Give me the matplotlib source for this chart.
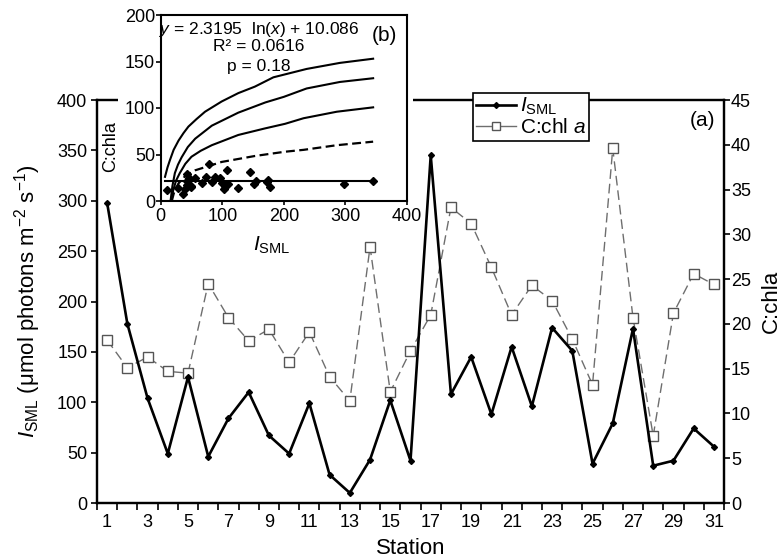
import numpy as np
import matplotlib
matplotlib.use('Agg')
import matplotlib.pyplot as plt
from matplotlib.lines import Line2D
from matplotlib.patches import Rectangle

plt.rcParams['font.family'] = ['Liberation Sans', 'DejaVu Sans']
plt.rcParams['mathtext.fontset'] = 'custom'
plt.rcParams['mathtext.rm'] = 'Liberation Sans'
plt.rcParams['mathtext.it'] = 'Liberation Sans:italic'
plt.rcParams['mathtext.bf'] = 'Liberation Sans:bold'

# Irradiance in the surface mixed layer and C:chl a at each station
stations = np.arange(1, 32)
i_sml = [298, 178, 104, 49, 125, 46, 84, 110, 67, 49, 99, 28, 10, 43, 102, 42,
         345, 108, 145, 88, 155, 96, 174, 151, 39, 79, 173, 37, 42, 74, 56]
c_chl = [18.2, 15.1, 16.3, 14.7, 14.5, 24.5, 20.7, 18.1, 19.4, 15.7, 19.1, 14.1,
         11.4, 28.6, 12.4, 17.0, 21.0, 33.0, 31.2, 26.3, 21.0, 24.3, 22.6, 18.3,
         13.2, 39.6, 20.7, 7.5, 21.2, 25.6, 24.4]

# Model curves of C:chl a against I_SML for the inset
curve_top_x = [7, 11, 15, 21, 29, 37, 45, 58, 72, 99, 126, 153, 183, 237, 291, 345]
curve_top_y = [26, 36, 44, 55, 65, 73, 80, 88, 96, 107, 116, 123, 133, 142, 148.5, 153]
curve_mid_x = [16, 19, 23, 28, 34, 44, 56, 83, 126, 170, 200, 237, 291, 345]
curve_mid_y = [0, 16, 30, 39, 47, 58, 67, 81, 95, 106, 112, 121, 128, 132]
curve_low_x = [17, 20.5, 25, 31, 40, 50, 65, 83, 126, 169, 202, 232, 286, 345]
curve_low_y = [0, 12, 22, 30, 40, 47.6, 54, 60, 71, 78, 83, 89, 96, 100.7]
curve_dash_x = [18, 22, 29, 40, 56, 99, 153, 202, 232, 286, 345]
curve_dash_y = [0, 10, 19, 27, 33, 42, 48.4, 53, 55, 60, 63.8]
flat_x = [7, 345]
flat_level = 22

W, H = 784, 559


def fig_box(left, top, right, bottom):
    # pixel box -> figure fraction rectangle
    return [left / W, 1 - bottom / H, (right - left) / W, (bottom - top) / H]


fig = plt.figure(figsize=(W / 100, H / 100), dpi=100)
ax = fig.add_axes(fig_box(97, 100, 724, 503))
ax2 = ax.twinx()
ax.set_zorder(ax2.get_zorder() + 1)
ax.patch.set_visible(False)

# C:chl a on the right axis, I_SML on the left axis
ax2.plot(stations, c_chl, color='#6e6e6e', lw=1.0, dashes=(7, 3.5),
         marker='s', ms=6.5, mfc='white', mec='#555555', mew=1.0)
ax.plot(stations, i_sml, color='black', lw=1.9, marker='D', ms=3)

ax.set_xlim(0.5, 31.5)
ax.set_xticks(range(1, 32, 2))
ax.set_xticks(np.arange(0.5, 32, 1), minor=True)
ax.tick_params(axis='x', which='major', length=0, pad=8, labelsize=13)
ax.tick_params(axis='x', which='minor', length=5, width=1.2, direction='out')
ax.set_ylim(0, 400)
ax.set_yticks(range(0, 401, 50))
ax.tick_params(axis='y', length=4, width=1.2, pad=3, labelsize=13)
ax2.set_ylim(0, 45)
ax2.set_yticks(range(0, 46, 5))
ax2.tick_params(axis='y', length=4, width=1.2, pad=1, labelsize=13)
for a in (ax, ax2):
    for s in a.spines.values():
        s.set_linewidth(1.6)

ax.set_xlabel('Station', fontsize=16, labelpad=5)
ax.set_ylabel(r'$I_{\mathrm{SML}}$ (μmol photons m$^{-2}$ s$^{-1}$)', fontsize=16, labelpad=10)
ax2.set_ylabel('C:chla', fontsize=16, labelpad=7)
ax.text(0.965, 0.948, '(a)', transform=ax.transAxes, fontsize=15,
        ha='center', va='center')

handles = [Line2D([], [], color='black', lw=1.9, marker='D', ms=3),
           Line2D([], [], color='#6e6e6e', lw=1.0, marker='s', ms=6,
                  mfc='white', mec='#555555')]
leg = ax.legend(handles, [r'$I_{\mathrm{SML}}$', r'C:chl $\mathit{a}$'],
                loc='upper left', bbox_to_anchor=(473 / W, 1 - 93 / H),
                bbox_transform=fig.transFigure, fontsize=15, fancybox=False,
                edgecolor='black', framealpha=1, borderpad=0.15,
                labelspacing=0.05, handlelength=1.9, handletextpad=0.2,
                borderaxespad=0)
leg.get_frame().set_linewidth(1.2)

# white panel behind the inset chart
fig.add_artist(Rectangle((118 / W, 1 - 240 / H), 295 / W, 240 / H,
                         transform=fig.transFigure, facecolor='white',
                         edgecolor='none', zorder=1.5))

axin = fig.add_axes(fig_box(160.7, 15, 407, 201))
axin.set_zorder(2)
axin.plot(curve_top_x, curve_top_y, color='black', lw=1.5)
axin.plot(curve_mid_x, curve_mid_y, color='black', lw=1.5)
axin.plot(curve_low_x, curve_low_y, color='black', lw=1.5)
axin.plot(curve_dash_x, curve_dash_y, color='black', lw=1.6, dashes=(4, 2))
axin.plot(flat_x, [flat_level, flat_level], color='black', lw=1.5)
axin.plot(i_sml, c_chl, linestyle='none', marker='D', ms=4, color='black')

axin.set_xlim(0, 400)
axin.set_ylim(0, 200)
axin.set_xticks(range(0, 401, 100))
axin.set_yticks(range(0, 201, 50))
axin.tick_params(axis='x', length=3, width=1.2, pad=2, labelsize=13)
axin.tick_params(axis='y', length=3.5, width=1.2, pad=0.5, labelsize=13)
for s in axin.spines.values():
    s.set_linewidth(1.5)
axin.set_xlabel(r'$I_{\mathrm{SML}}$', fontsize=15)
axin.xaxis.set_label_coords(0.45, -0.18)
axin.set_ylabel('C:chla', fontsize=13)
axin.yaxis.set_label_coords(-0.17, 0.29)

axin.text(160, 184, r'$\mathit{y}$ = 2.3195  ln($\mathit{x}$) + 10.086',
          ha='center', va='center', fontsize=12.5)
axin.text(159, 166, 'R² = 0.0616', ha='center', va='center', fontsize=12.5)
axin.text(159, 144.4, 'p = 0.18', ha='center', va='center', fontsize=12.5)
axin.text(0.91, 0.89, '(b)', transform=axin.transAxes, fontsize=15,
          ha='center', va='center')

fig.savefig('out.png', dpi=100)
